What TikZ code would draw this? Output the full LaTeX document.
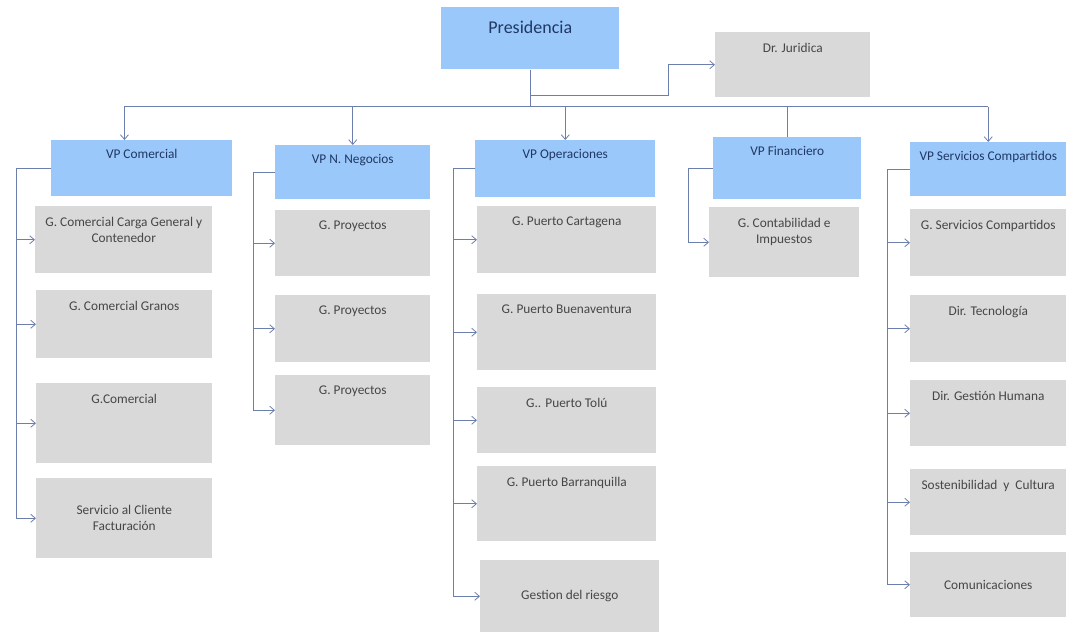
\documentclass[tikz,border=0pt]{standalone}
\usepackage{fontspec}
\setmainfont{Carlito}
\usepackage{tikz}
\usetikzlibrary{arrows.meta}

\definecolor{vpblue}{RGB}{155,200,250}
\definecolor{boxgray}{RGB}{217,217,217}
\definecolor{linkblue}{RGB}{108,126,172}
\definecolor{navytext}{RGB}{31,56,100}
\definecolor{graytext}{RGB}{70,70,70}

\begin{document}
\begin{tikzpicture}[x=0.75pt,y=0.75pt,yscale=-1,xscale=1,
  boxsize/.style 2 args={minimum width=#1*0.75pt, minimum height=#2*0.75pt},
  vp/.style={fill=vpblue, anchor=north west, inner sep=0pt},
  unit/.style={fill=boxgray, anchor=north west, inner sep=0pt, text=graytext, align=center, font=\fontsize{10}{12}\selectfont},
  vpname/.style={label={[text=navytext, inner sep=0pt, font=\fontsize{10}{12}\selectfont, anchor=north, yshift=-7pt]north:{#1}}},
  unitname/.style={label={[text=graytext, inner sep=0pt, align=center, font=\fontsize{10}{12}\selectfont, anchor=north, yshift=-8pt]north:{#1}}},
  link/.style={draw=linkblue, line width=0.6pt},
  >={Straight Barb[length=3.5pt,width=6pt]}]
  \useasboundingbox (0,0) rectangle (1066,634);

  % top level
  \node[vp, boxsize={178}{62}, label={[text=navytext, inner sep=0pt, font=\fontsize{13.5}{16}\selectfont, anchor=north, yshift=-10pt]north:{Presidencia}}] (pres) at (441,7) {};
  \node[unit, boxsize={155}{65}, unitname={Dr. Juridica}] (jur) at (715,32) {};

  % vicepresidencias
  \node[vp, boxsize={181}{56}, vpname={VP Comercial}] (vpcom) at (51,140) {};
  \node[vp, boxsize={155}{54}, vpname={VP N. Negocios}] (vpneg) at (275,145) {};
  \node[vp, boxsize={180}{57}, vpname={VP Operaciones}] (vpope) at (475,140) {};
  \node[vp, boxsize={148}{62}, vpname={VP Financiero}] (vpfin) at (713,137) {};
  \node[vp, boxsize={156}{54}, vpname={VP Servicios Compartidos}] (vpser) at (910,142) {};

  % comercial
  \node[unit, boxsize={177}{67}, unitname={G. Comercial Carga General y\\Contenedor}] (c1) at (35,206) {};
  \node[unit, boxsize={176}{68}, unitname={G. Comercial Granos}] (c2) at (36,290) {};
  \node[unit, boxsize={176}{80}, unitname={G.Comercial}] (c3) at (36,383) {};
  \node[unit, boxsize={176}{80}] (c4) at (36,478) {Servicio al Cliente\\Facturación};

  % nuevos negocios
  \node[unit, boxsize={155}{66}, unitname={G. Proyectos}] (n1) at (275,210) {};
  \node[unit, boxsize={155}{67}, unitname={G. Proyectos}] (n2) at (275,295) {};
  \node[unit, boxsize={155}{70}, unitname={G. Proyectos}] (n3) at (275,375) {};

  % operaciones
  \node[unit, boxsize={179}{67}, unitname={G. Puerto Cartagena}] (o1) at (477,206) {};
  \node[unit, boxsize={179}{76}, unitname={G. Puerto Buenaventura}] (o2) at (477,294) {};
  \node[unit, boxsize={179}{66}, unitname={G.. Puerto Tolú}] (o3) at (477,387) {};
  \node[unit, boxsize={179}{75}, unitname={G. Puerto Barranquilla}] (o4) at (477,466) {};
  \node[unit, boxsize={179}{72}] (o5) at (480,560) {Gestion del riesgo};

  % financiero
  \node[unit, boxsize={150}{70}, unitname={G. Contabilidad e\\Impuestos}] (f1) at (709,207) {};

  % servicios compartidos
  \node[unit, boxsize={156}{67}, unitname={G. Servicios Compartidos}] (s1) at (910,209) {};
  \node[unit, boxsize={156}{67}, unitname={Dir. Tecnología}] (s2) at (910,295) {};
  \node[unit, boxsize={156}{66}, unitname={Dir. Gestión Humana}] (s3) at (910,380) {};
  \node[unit, boxsize={156}{66}, unitname={Sostenibilidad\ \ y\ \ Cultura}] (s4) at (910,469) {};
  \node[unit, boxsize={156}{65}] (s5) at (910,552) {Comunicaciones};

  % connectors
  \draw[link,->] (pres.south) -- ++(0,26) -- ++(138,0) |- (jur.west);
  \draw[link] (pres.south) -- ++(0,37) coordinate (hub);
  \coordinate (vpcomin) at ([xshift=-13pt]vpcom.north);
  \draw[link] (vpcomin |- hub) -- (vpser.north |- hub);
  \foreach \v in {vpcomin,vpneg.north,vpope.north,vpser.north}
    \draw[link,->] (\v |- hub) -- (\v);
  \draw[link] (vpfin.north |- hub) -- (vpfin.north);

  \foreach \u in {c1,c2,c3,c4}
    \draw[link,->] (vpcom.west) -- ++(-35,0) |- (\u.west);
  \foreach \u in {n1,n2,n3}
    \draw[link,->] (vpneg.west) -- ++(-22,0) |- (\u.west);
  \foreach \u in {o1,o2,o3,o4,o5}
    \draw[link,->] (vpope.west) -- ++(-22,0) |- (\u.west);
  \draw[link,->] (vpfin.west) -- ++(-25,0) |- (f1.west);
  \foreach \u in {s1,s2,s3,s4,s5}
    \draw[link,->] (vpser.west) -- ++(-23,0) |- (\u.west);
\end{tikzpicture}
\end{document}
